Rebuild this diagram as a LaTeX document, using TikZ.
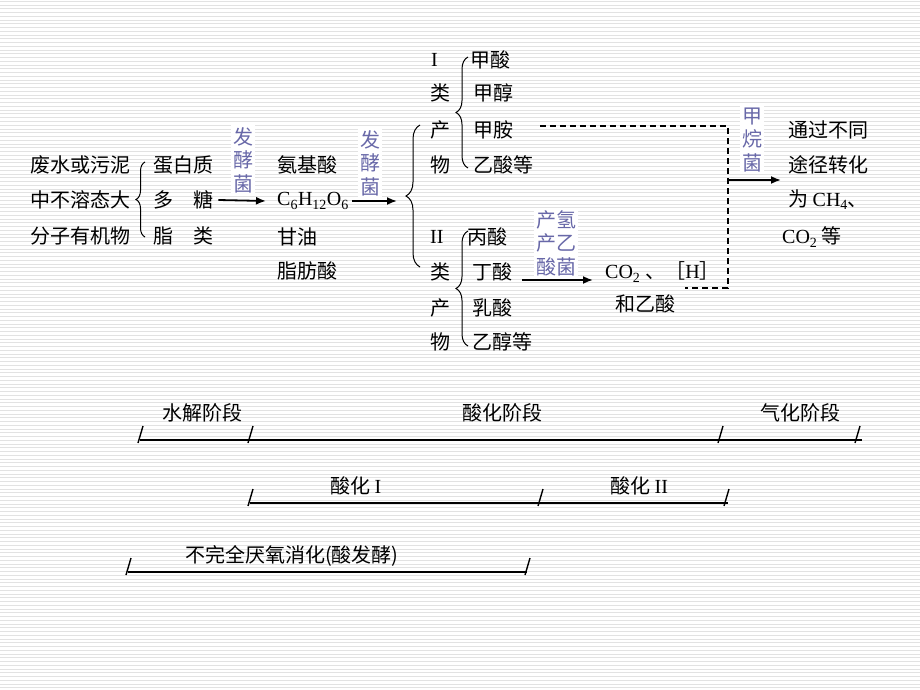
\documentclass[tikz,border=0pt]{standalone}
\usepackage{fontspec}
\setmainfont{Liberation Serif}
\newfontfamily\cjk{Noto Sans CJK SC}
\usetikzlibrary{arrows.meta,decorations.pathreplacing}
\definecolor{labpurple}{HTML}{6868A8}
\definecolor{rulegray}{HTML}{E2E2E2}
\newcommand\lat[1]{{\rmfamily #1}}
\tikzset{
  txt/.style={anchor=west,inner sep=0pt,font=\cjk\fontsize{20}{24}\selectfont},
  lab/.style={fill=white,inner sep=2pt,align=center,text=labpurple,font=\cjk\fontsize{20}{23.5}\selectfont},
  arr/.style={line width=1.8pt,-{Latex[length=10pt,width=8pt]}},
  brc/.style={decorate,decoration={brace,amplitude=#1},line width=1pt},
  dsh/.style={line width=2pt,dash pattern=on 6pt off 4pt},
  stage/.style={line width=2pt},
  tickmark/.style={line width=1.4pt},
}

\begin{document}
\begin{tikzpicture}[x=1pt,y=-1pt]
  \useasboundingbox (0,0) rectangle (920,690);
  % ruled background
  \foreach \k in {0,...,183}
    \draw[rulegray,line width=1pt] (0,{1.5+3.75*\k}) -- (920,{1.5+3.75*\k});

  % hydrolysis
  \node[txt] (src1) at (30,165) {废水或污泥};
  \node[txt] (src2) at (30,200) {中不溶态大};
  \node[txt] (src3) at (30,236) {分子有机物};
  \draw[brc=9pt] (145,237) -- (145,162);
  \node[txt] (prot) at (153,165) {蛋白质};
  \node[txt] (poly) at (153,200) {多\hspace{20pt}糖};
  \node[txt] (lipid) at (153,236) {脂\hspace{20pt}类};

  \node[txt] (amino) at (277,165) {氨基酸};
  \node[txt] (gluc) at (277,201) {\lat{C\textsubscript{6}H\textsubscript{12}O\textsubscript{6}}};
  \node[txt] (glyc) at (277,237) {甘油};
  \node[txt] (fatty) at (277,271) {脂肪酸};
  \draw[arr] ([xshift=5pt]poly.east) -- ([xshift=-11pt]gluc.west);
  \node[lab] (bac1) at (243,160) {发\\酵\\菌};

  % acidogenesis
  \coordinate (tipA) at (397,201);
  \draw[arr,shorten <=3pt] (gluc.east) -- (tipA);
  \node[lab] (bac2) at (370,163) {发\\酵\\菌};
  \draw[brc=14pt] (420,267) -- (420,125);

  \node[txt] (c1a) at (431,60) {\lat{I}};
  \node[txt] (c1b) at (430,93) {类};
  \node[txt] (c1c) at (430,130) {产};
  \node[txt] (c1d) at (430,165) {物};
  \draw[brc=12pt] (468,168) -- (468,57);
  \node[txt] (fa) at (470,60) {甲酸};
  \node[txt] (mo) at (473,93) {甲醇};
  \node[txt] (ma) at (473,130) {甲胺};
  \node[txt] (aa) at (473,165) {乙酸等};

  \node[txt] (c2a) at (430,237) {\lat{II}};
  \node[txt] (c2b) at (430,272) {类};
  \node[txt] (c2c) at (430,308) {产};
  \node[txt] (c2d) at (430,342) {物};
  \draw[brc=12pt] (468,346) -- (468,231);
  \node[txt] (pa) at (467,237) {丙酸};
  \node[txt] (ba) at (472,272) {丁酸};
  \node[txt] (la) at (472,308) {乳酸};
  \node[txt] (et) at (472,342) {乙醇等};

  % acetogenesis
  \coordinate (hA) at (522,280);
  \coordinate (hB) at (593,280);
  \draw[arr] (hA) -- (hB);
  \node[lab] (bac3) at (556,243) {产氢\\产乙\\酸菌};
  \node[txt] (co2h) at (605,272) {\lat{CO\textsubscript{2}}\hspace{5pt}、［\lat{H}］};
  \node[txt] (acet) at (615,304) {和乙酸};

  % methanogenesis
  \coordinate (dA) at (540,126);
  \coordinate (dB) at (728,126);
  \coordinate (dC) at (728,288);
  \coordinate (dD) at (685,288);
  \draw[dsh] (dA) -- (dB) -- (dC) -- (dD);
  \coordinate (mA) at (728,180);
  \coordinate (mB) at (781,180);
  \draw[arr] (mA) -- (mB);
  \node[lab] (bac4) at (752,140) {甲\\烷\\菌};
  \node[txt] (res1) at (788,130) {通过不同};
  \node[txt] (res2) at (788,165) {途径转化};
  \node[txt] (res3) at (788,200) {为 \lat{CH\textsubscript{4}}、};
  \node[txt] (res4) at (782,237) {\lat{CO\textsubscript{2}} 等};

  % stage bars
  \node[txt] (st1) at (162,413) {水解阶段};
  \node[txt] (st2) at (462,413) {酸化阶段};
  \node[txt] (st3) at (760,413) {气化阶段};
  \coordinate (t1) at (140,440);
  \coordinate (t2) at (250,440);
  \coordinate (t3) at (720,440);
  \coordinate (t4) at (857,440);
  \draw[stage] (t1) -- ([xshift=5pt]t4);

  \node[txt] (sa1) at (330,486) {酸化 \lat{I}};
  \node[txt] (sa2) at (610,486) {酸化 \lat{II}};
  \coordinate (u1) at (250,503);
  \coordinate (u2) at (540,503);
  \coordinate (u3) at (726,503);
  \draw[stage] (u1) -- ([xshift=2pt]u3);

  \node[txt] (inc) at (185,556) {不完全厌氧消化(酸发酵)};
  \coordinate (v1) at (128,572);
  \coordinate (v2) at (527,572);
  \draw[stage] (v1) -- (v2);

  \foreach \t in {t1,t2,t3,t4,u1,u2,u3,v1,v2}
    \draw[tickmark] ([shift={(-2,3)}]\t) -- ([shift={(3,-14)}]\t);
\end{tikzpicture}
\end{document}
